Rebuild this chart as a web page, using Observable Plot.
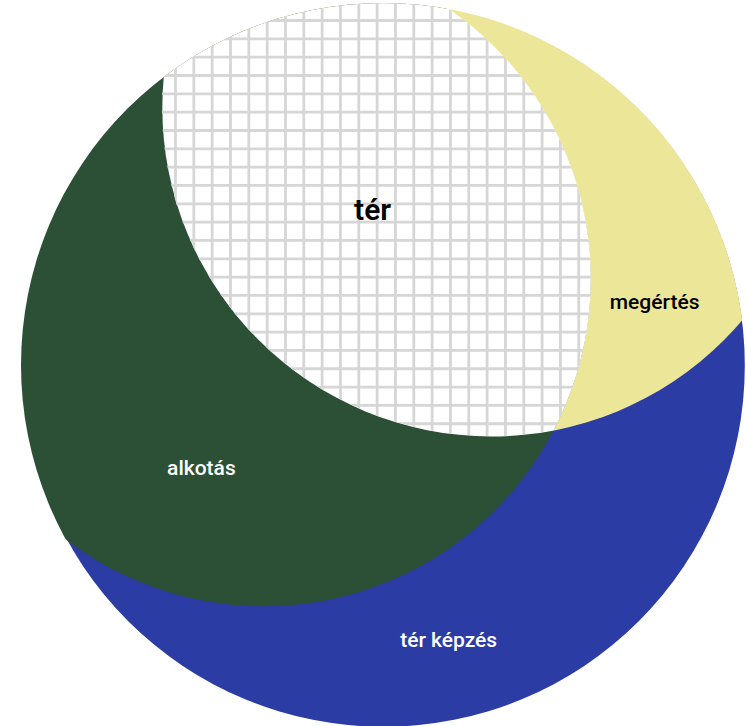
<!DOCTYPE html>
<html>
<head>
<meta charset="utf-8">
<script src="https://cdn.jsdelivr.net/npm/d3@7"></script>
<script src="https://cdn.jsdelivr.net/npm/@observablehq/plot@0.6"></script>
<style>
  html, body { margin: 0; padding: 0; background: #ffffff; }
  #chart { width: 747px; height: 726px; }
</style>
</head>
<body>
<div id="chart"></div>
<script>
// ---- data (diagram units: outer circle radius = 1, centred on 0,0; y grows downward) ----
const circleNames = ["tér képzés", "megértés", "alkotás"];
const circleX = [0, 0.298, -0.331];
const circleY = [0, -0.713, -0.238];
const circleR = [1, 0.909, 0.903];

const labelNames = ["tér", "megértés", "alkotás", "tér képzés"];
const labelX = [-0.030, 0.749, -0.503, 0.180];
const labelY = [-0.428, -0.175, 0.285, 0.760];

// ---- layout ----
const W = 747, H = 726;
const CX = 383, CY = 365, R = 362; // pixel centre / radius of outer circle
const colors = {blue: "#2b3ca4", yellow: "#ece699", green: "#2c5036", grid: "#d6d6d6"};

const circles = circleNames.map((name, i) => ({name, x: circleX[i], y: circleY[i], r: circleR[i]}));
const labels = labelNames.map((name, i) => ({name, x: labelX[i], y: labelY[i]}));
const outer = circles[0], cYellow = circles[1], cGreen = circles[2];

// grid lines of the "tér" hatch (decoration)
const gridStep = 18.33 / R;
const gridXs = d3.range(-25, 26).map(k => (175 - CX) / R + k * gridStep);
const gridYs = d3.range(-25, 26).map(k => (20 - CY) / R + k * gridStep);

const xDomain = [(0 - CX) / R, (W - CX) / R];
const yDomain = [(0 - CY) / R, (H - CY) / R];

const font = "Roboto, 'Liberation Sans', Arial, sans-serif";
const inset = 0.7 / R; // keep the blue base just under the coloured edges

const plot = Plot.plot({
  width: W,
  height: H,
  margin: 0,
  x: {domain: xDomain, range: [0, W], axis: null},
  y: {domain: yDomain, range: [0, H], axis: null},
  r: {type: "linear", domain: [0, 1], range: [0, R]},
  marks: [
    Plot.dot([outer], {x: "x", y: "y", r: d => d.r - inset, fill: colors.blue, stroke: "none", ariaDescription: "L-blue"}),
    Plot.dot([cYellow], {x: "x", y: "y", r: "r", fill: colors.yellow, stroke: "none", ariaDescription: "L-yellow"}),
    Plot.dot([cGreen], {x: "x", y: "y", r: "r", fill: colors.green, stroke: "none", ariaDescription: "L-green"}),
    Plot.dot([cYellow], {x: "x", y: "y", r: "r", fill: "#ffffff", stroke: "none", ariaDescription: "L-white"}),
    Plot.ruleX(gridXs, {y1: yDomain[0], y2: yDomain[1], stroke: colors.grid, strokeWidth: 2.8, ariaDescription: "L-gridx"}),
    Plot.ruleY(gridYs, {x1: xDomain[0], x2: xDomain[1], stroke: colors.grid, strokeWidth: 2.8, ariaDescription: "L-gridy"}),
    Plot.text([labels[0]], {x: "x", y: "y", text: "name", fill: "#000000", fontSize: 30, fontWeight: 600, fontFamily: font, textAnchor: "middle", lineAnchor: "middle"}),
    Plot.text([labels[1]], {x: "x", y: "y", text: "name", fill: "#000000", fontSize: 21, fontWeight: 500, fontFamily: font, textAnchor: "middle", lineAnchor: "middle"}),
    Plot.text(labels.slice(2), {x: "x", y: "y", text: "name", fill: "#ffffff", fontSize: 21, fontWeight: 500, fontFamily: font, textAnchor: "middle", lineAnchor: "middle"})
  ]
});

// ---- clip layers to the circles (computed through Plot's own scales) ----
const svg = d3.select(plot.tagName.toLowerCase() === "svg" ? plot : plot.querySelector("svg"));
const sx = plot.scale("x"), sy = plot.scale("y"), sr = plot.scale("r");
const defs = svg.insert("defs", ":first-child");
function addClip(id, c, extraPx) {
  defs.append("clipPath").attr("id", id)
    .append("circle")
    .attr("cx", sx.apply(c.x))
    .attr("cy", sy.apply(c.y))
    .attr("r", sr.apply(c.r) + extraPx);
  return id;
}
const clipOuter = addClip("clip-outer", outer, 0);
const clipYellow = addClip("clip-yellow", cYellow, 0);
const clipGreenWide = addClip("clip-green-wide", cGreen, 0.8);

const markGroups = Array.from(svg.node().children).filter(n => n.tagName.toLowerCase() === "g");
function layer(desc, idx) {
  const n = svg.node().querySelector(`[aria-description="${desc}"]`);
  return n || markGroups[idx];
}
function wrap(node, ids) {
  let target = node;
  for (const id of ids) {
    const g = document.createElementNS("http://www.w3.org/2000/svg", "g");
    g.setAttribute("clip-path", `url(#${id})`);
    target.parentNode.insertBefore(g, target);
    g.appendChild(target);
    target = g;
  }
}
wrap(layer("L-yellow", 1), [clipOuter]);
wrap(layer("L-green", 2), [clipOuter]);
wrap(layer("L-white", 3), [clipGreenWide, clipOuter]);
wrap(layer("L-gridx", 4), [clipYellow, clipGreenWide, clipOuter]);
wrap(layer("L-gridy", 5), [clipYellow, clipGreenWide, clipOuter]);

document.getElementById("chart").appendChild(plot);
</script>
</body>
</html>
